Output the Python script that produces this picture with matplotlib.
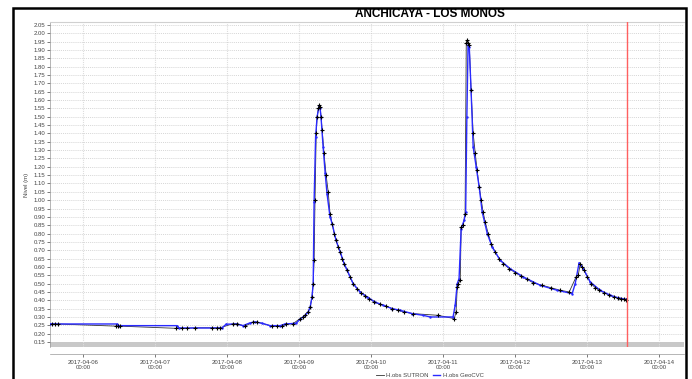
import numpy as np
import pandas as pd
import matplotlib
matplotlib.use("Agg")
import matplotlib.pyplot as plt
import matplotlib.dates as mdates
from matplotlib.patches import Rectangle

plt.rcParams['font.family'] = ['Liberation Sans', 'DejaVu Sans']

# ---- data (hours after 2017-04-06 00:00, level in m) ----
geo_hours = [-11.0, 11.3, 12.0, 31.3, 32.0, 46.3, 47.7, 51.3, 53.3, 55.7, 57.3, 59.7,
             62.3, 65.7, 67.3, 71.0, 72.3, 74.0, 75.0, 75.7, 76.3, 76.7, 77.0, 77.5,
             78.0, 78.7, 79.0, 79.3, 80.0, 80.7, 81.3, 82.3, 83.0, 84.3, 85.7, 87.0,
             88.0, 90.0, 92.3, 94.7, 97.3, 100.0, 103.0, 105.7, 109.7, 113.3, 115.7,
             123.3, 124.0, 124.7, 125.3, 126.0, 127.0, 127.5, 127.9, 128.3, 128.7,
             129.3, 130.0, 131.0, 132.0, 133.0, 134.7, 136.3, 139.0, 142.3, 146.7,
             152.3, 158.0, 163.0, 164.0, 165.3, 166.7, 169.0, 172.3, 175.7, 178.3, 181.0]
geo_level = [0.258, 0.258, 0.248, 0.248, 0.234, 0.234, 0.257, 0.257, 0.248, 0.265, 0.270, 0.262,
             0.248, 0.248, 0.258, 0.262, 0.286, 0.310, 0.330, 0.360, 0.420, 0.500, 0.990, 1.380,
             1.500, 1.565, 1.550, 1.500, 1.320, 1.160, 1.040, 0.900, 0.860, 0.760, 0.690, 0.620,
             0.580, 0.500, 0.450, 0.420, 0.390, 0.370, 0.350, 0.340, 0.320, 0.310, 0.300,
             0.300, 0.370, 0.500, 0.530, 0.830, 0.880, 0.930, 1.500, 1.930, 1.920,
             1.660, 1.320, 1.200, 1.080, 0.930, 0.800, 0.720, 0.640, 0.590, 0.540,
             0.490, 0.460, 0.440, 0.500, 0.625, 0.590, 0.510, 0.460, 0.430, 0.415, 0.405]

sut_hours = [-10.5, -9.5, -8.5, 11.0, 11.7, 12.3, 31.0, 33.0, 34.7, 37.3, 43.0, 44.7, 45.7,
             50.0, 51.3, 54.0, 56.7, 58.0, 63.0, 64.7, 66.3, 67.7, 70.0, 72.3, 73.3, 74.0,
             75.0, 75.7, 76.3, 76.7, 77.0, 77.3, 77.7, 78.0, 78.4, 78.7, 79.0, 79.3, 79.7,
             80.3, 81.0, 81.7, 82.3, 83.0, 83.7, 84.3, 85.0, 85.7, 86.3, 87.0, 88.0, 89.0,
             90.0, 91.3, 92.7, 94.0, 95.3, 97.0, 99.0, 101.0, 103.0, 105.0, 107.0, 110.0,
             118.3, 123.7, 124.3, 124.7, 125.0, 125.7, 126.0, 126.7, 127.3, 127.7, 128.0,
             128.3, 128.7, 129.3, 130.0, 130.7, 131.3, 132.0, 132.7, 133.3, 134.0, 135.0,
             136.0, 137.3, 138.7, 140.0, 142.0, 144.0, 146.0, 148.0, 150.0, 153.0, 156.0,
             159.0, 162.0, 164.3, 165.0, 165.7, 166.3, 167.0, 168.0, 169.3, 170.7, 172.0,
             173.7, 175.3, 177.0, 178.3, 179.3, 180.3, 181.0]
sut_level = [0.260, 0.260, 0.258, 0.245, 0.245, 0.245, 0.232, 0.232, 0.232, 0.235, 0.235, 0.235, 0.235,
             0.260, 0.260, 0.245, 0.270, 0.270, 0.245, 0.245, 0.245, 0.255, 0.260, 0.290, 0.300, 0.310,
             0.330, 0.360, 0.420, 0.500, 0.640, 1.000, 1.400, 1.500, 1.550, 1.570, 1.560, 1.500, 1.420,
             1.280, 1.150, 1.050, 0.920, 0.860, 0.800, 0.760, 0.720, 0.690, 0.650, 0.620, 0.580, 0.540,
             0.500, 0.470, 0.445, 0.425, 0.410, 0.390, 0.375, 0.365, 0.350, 0.340, 0.330, 0.320,
             0.310, 0.290, 0.330, 0.480, 0.500, 0.520, 0.840, 0.850, 0.920, 1.940, 1.960,
             1.940, 1.930, 1.660, 1.400, 1.280, 1.180, 1.080, 1.000, 0.930, 0.870, 0.800,
             0.740, 0.690, 0.650, 0.620, 0.590, 0.565, 0.545, 0.525, 0.505, 0.490, 0.475,
             0.460, 0.450, 0.540, 0.550, 0.620, 0.600, 0.580, 0.540, 0.500, 0.475, 0.460,
             0.445, 0.430, 0.420, 0.415, 0.410, 0.405, 0.400]

now_marker = "2017-04-13 13:20"
series_names = ["H.obs SUTRON", "H.obs GeoCVC"]
title = "ANCHICAYA - LOS MONOS"

base = pd.Timestamp("2017-04-06 00:00")
geo_t = base + pd.to_timedelta(geo_hours, unit="h")
sut_t = base + pd.to_timedelta(sut_hours, unit="h")

fig = plt.figure(figsize=(6.92, 3.79), dpi=100)
ax = fig.add_axes([50/692, 1-347/379, 634/692, 325/379])

ax.plot(sut_t, sut_level, color="#333333", lw=0.6, zorder=2, label=series_names[0])
ax.plot(geo_t, geo_level, color="#2a2aff", lw=1.0, marker=".", ms=1.5,
        zorder=3, label=series_names[1])
ax.plot(sut_t, sut_level, ls="none", color="black", marker="+", ms=2.5, mew=0.8,
        zorder=4)
ax.axvline(pd.Timestamp(now_marker), color="#ff6060", lw=1.0, zorder=5)

ax.set_xlim(pd.Timestamp("2017-04-05 13:00"), pd.Timestamp("2017-04-14 08:15"))
ax.set_ylim(0.12, 2.068)
ax.axhspan(0.12, 0.147, color="#c8c8c8", zorder=1, lw=0)

ax.set_yticks(np.round(np.arange(0.15, 2.051, 0.05), 2))
ax.yaxis.set_major_formatter(matplotlib.ticker.FormatStrFormatter("%.2f"))
ax.xaxis.set_major_locator(mdates.DayLocator())
ax.xaxis.set_major_formatter(mdates.DateFormatter("%Y-%m-%d\n%H:%M"))
ax.tick_params(axis="both", labelsize=4.3, colors="#444444", length=2, width=0.5, pad=2)
ax.tick_params(axis="y", pad=1.5)
for lbl in ax.get_xticklabels():
    lbl.set_horizontalalignment("center")

ax.grid(axis="y", color="#c8c8c8", lw=0.5, ls=(0, (1.5, 1.5)))
ax.grid(axis="x", color="#dddddd", lw=0.8, ls=(0, (1, 1)))
ax.spines["right"].set_visible(False)
ax.spines["top"].set_color("#d0d0d0")
ax.spines["left"].set_color("#999999")
ax.spines["left"].set_linewidth(0.5)
ax.spines["bottom"].set_color("#999999")
ax.spines["bottom"].set_linewidth(0.5)
ax.spines["bottom"].set_position(("outward", 5))

ax.set_ylabel("Nivel (m)", fontsize=4.3, color="#444444", labelpad=3)
fig.text(430/692, 1-14/379, title, ha="center", va="center",
         fontsize=8.5, fontweight="bold")

leg = ax.legend(loc="center", bbox_to_anchor=(430/692, 1-375/379),
                bbox_transform=fig.transFigure, ncol=2, frameon=False,
                fontsize=4.3, handlelength=1.2, columnspacing=0.8,
                handletextpad=0.4, markerscale=0)
for t in leg.get_texts():
    t.set_color("#444444")

fig.patches.append(Rectangle((13/692, -0.01), 673/692, 1-8/379 + 0.01,
                             transform=fig.transFigure, fill=False,
                             edgecolor="black", lw=1.8))

fig.savefig("out.png", dpi=100)
